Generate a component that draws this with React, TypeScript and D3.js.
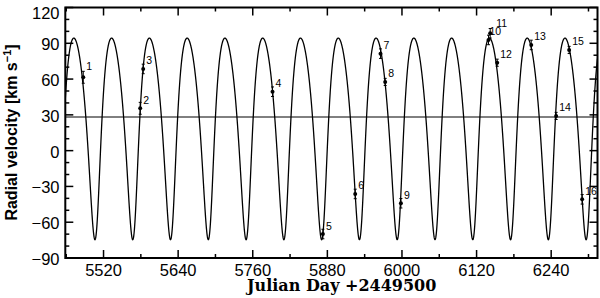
import React from 'react';
import * as d3 from 'd3';

// Observations (Julian Day - 2449500, radial velocity km/s)
const obsLabels = ['1', '2', '3', '4', '5', '6', '7', '8', '9', '10', '11', '12', '13', '14', '15', '16'];
const obsDay = [5487.4, 5579.0, 5583.8, 5791.8, 5872.8, 5924.8, 5965.5, 5973.0, 5998.3, 6139.2, 6141.9, 6153.2, 6207.9, 6248.0, 6268.9, 6289.8];
const obsRV = [61.5, 35.5, 68.5, 49.4, -69.9, -36.3, 81.3, 57.6, -44.1, 92.8, 98.4, 73.7, 88.6, 29.1, 84.4, -40.8];
const obsErr = [5, 5, 4, 4, 4, 4, 4, 3, 4, 4, 4, 3, 4, 3, 3, 4];

// Orbital solution (Keplerian curve)
const period = 60.77;
const tPeri = 5508.56;
const ecc = 0.236;
const omegaDeg = 203;
const semiAmp = 84.5;
const gamma = 28.2;

const xMajorTicks = [5520, 5640, 5760, 5880, 6000, 6120, 6240];
const xMinorTicks = [5460, 5580, 5700, 5820, 5940, 6060, 6180, 6300];
const yMajorTicks = [-90, -60, -30, 0, 30, 60, 90, 120];
const yMinorTicks = d3.range(-90, 121, 10);

const xDomain = [5458.5, 6314.5];
const yDomain = [-90, 120];

function rvModel(t: number): number {
  const M = (2 * Math.PI * (t - tPeri)) / period;
  let E = M;
  for (let i = 0; i < 30; i++) {
    E = E - (E - ecc * Math.sin(E) - M) / (1 - ecc * Math.cos(E));
  }
  const nu = 2 * Math.atan2(Math.sqrt(1 + ecc) * Math.sin(E / 2), Math.sqrt(1 - ecc) * Math.cos(E / 2));
  const w = (omegaDeg * Math.PI) / 180;
  return gamma + semiAmp * (Math.cos(nu + w) + ecc * Math.cos(w));
}

export default function App() {
  const W = 600, H = 298;
  const L = 65.3, R = 597.5, T = 7.5, B = 258;
  const x = d3.scaleLinear().domain(xDomain).range([L, R]);
  const y = d3.scaleLinear().domain(yDomain).range([B, T]);

  const ts = d3.range(xDomain[0], xDomain[1] + 0.25, 0.25);
  const line = d3.line<number>().x((t) => x(t)).y((t) => y(rvModel(t)));
  const curvePath = line(ts) || '';

  const sans = "'Liberation Sans', Arial, Helvetica, sans-serif";
  const serif = "'DejaVu Serif', serif";
  const majorLen = 8, minorLen = 4;

  const labelNudge: Record<string, [number, number]> = { '1': [0, -3], '10': [-2, 0], '11': [3, -2] };

  return (
    <svg width={W} height={H} style={{ position: 'absolute', left: 0, top: 0, background: '#fff' }}>
      <defs>
        <clipPath id="plotclip">
          <rect x={L} y={T} width={R - L} height={B - T} />
        </clipPath>
      </defs>
      <rect x={0} y={0} width={W} height={H} fill="#fff" />
      {/* gamma line */}
      <line x1={L} x2={R} y1={y(gamma)} y2={y(gamma)} stroke="#000" strokeWidth={1} />
      {/* orbit curve */}
      <path d={curvePath} fill="none" stroke="#000" strokeWidth={1.3} clipPath="url(#plotclip)" />
      {/* observations */}
      {obsDay.map((d, i) => {
        const cx = x(d), cy = y(obsRV[i]);
        const y1 = y(obsRV[i] + obsErr[i]), y2 = y(obsRV[i] - obsErr[i]);
        const nud = labelNudge[obsLabels[i]] || [0, 0];
        return (
          <g key={i}>
            <line x1={cx} x2={cx} y1={y1} y2={y2} stroke="#000" strokeWidth={1} />
            <line x1={cx - 1.5} x2={cx + 1.5} y1={y1} y2={y1} stroke="#000" strokeWidth={1} />
            <line x1={cx - 1.5} x2={cx + 1.5} y1={y2} y2={y2} stroke="#000" strokeWidth={1} />
            <circle cx={cx} cy={cy} r={2} fill="#000" />
            <text x={cx + 3 + nud[0]} y={cy - 4.5 + nud[1]} fontFamily={sans} fontSize={10.5} fill="#000">
              {obsLabels[i]}
            </text>
          </g>
        );
      })}
      {/* ticks */}
      {xMajorTicks.map((t) => (
        <g key={'xM' + t}>
          <line x1={x(t)} x2={x(t)} y1={B} y2={B - majorLen} stroke="#000" strokeWidth={1.5} />
          <line x1={x(t)} x2={x(t)} y1={T} y2={T + majorLen} stroke="#000" strokeWidth={1.5} />
          <text x={x(t)} y={276} textAnchor="middle" fontFamily={sans} fontSize={16.5} fill="#000">
            {t}
          </text>
        </g>
      ))}
      {xMinorTicks.map((t) => (
        <g key={'xm' + t}>
          <line x1={x(t)} x2={x(t)} y1={B} y2={B - minorLen} stroke="#000" strokeWidth={1.5} />
          <line x1={x(t)} x2={x(t)} y1={T} y2={T + minorLen} stroke="#000" strokeWidth={1.5} />
        </g>
      ))}
      {yMinorTicks.map((v) => {
        const isMajor = yMajorTicks.includes(v);
        const len = isMajor ? majorLen : minorLen;
        return (
          <g key={'y' + v}>
            <line x1={L} x2={L + len} y1={y(v)} y2={y(v)} stroke="#000" strokeWidth={1.5} />
            <line x1={R} x2={R - len} y1={y(v)} y2={y(v)} stroke="#000" strokeWidth={1.5} />
          </g>
        );
      })}
      {yMajorTicks.map((v) => (
        <text key={'yl' + v} x={59.5} y={Math.max(y(v) + 7, 18.7)} textAnchor="end" fontFamily={sans} fontSize={16.5} fill="#000">
          {v < 0 ? '\u2212' + Math.abs(v) : String(v)}
        </text>
      ))}
      {/* frame */}
      <rect x={L} y={T} width={R - L} height={B - T} fill="none" stroke="#000" strokeWidth={2} />
      {/* axis titles */}
      <text x={341.7} y={290.5} textAnchor="middle" fontFamily={serif} fontWeight="bold" fontSize={16} fill="#000">
        Julian Day +2449500
      </text>
      <text transform={`translate(16.5,132.5) rotate(-90)`} textAnchor="middle" fontFamily={sans} fontWeight="bold" fontSize={16} fill="#000">
        Radial velocity [km s<tspan dy={-6} fontSize={11}>{'\u22121'}</tspan><tspan dy={6}>]</tspan>
      </text>
    </svg>
  );
}
